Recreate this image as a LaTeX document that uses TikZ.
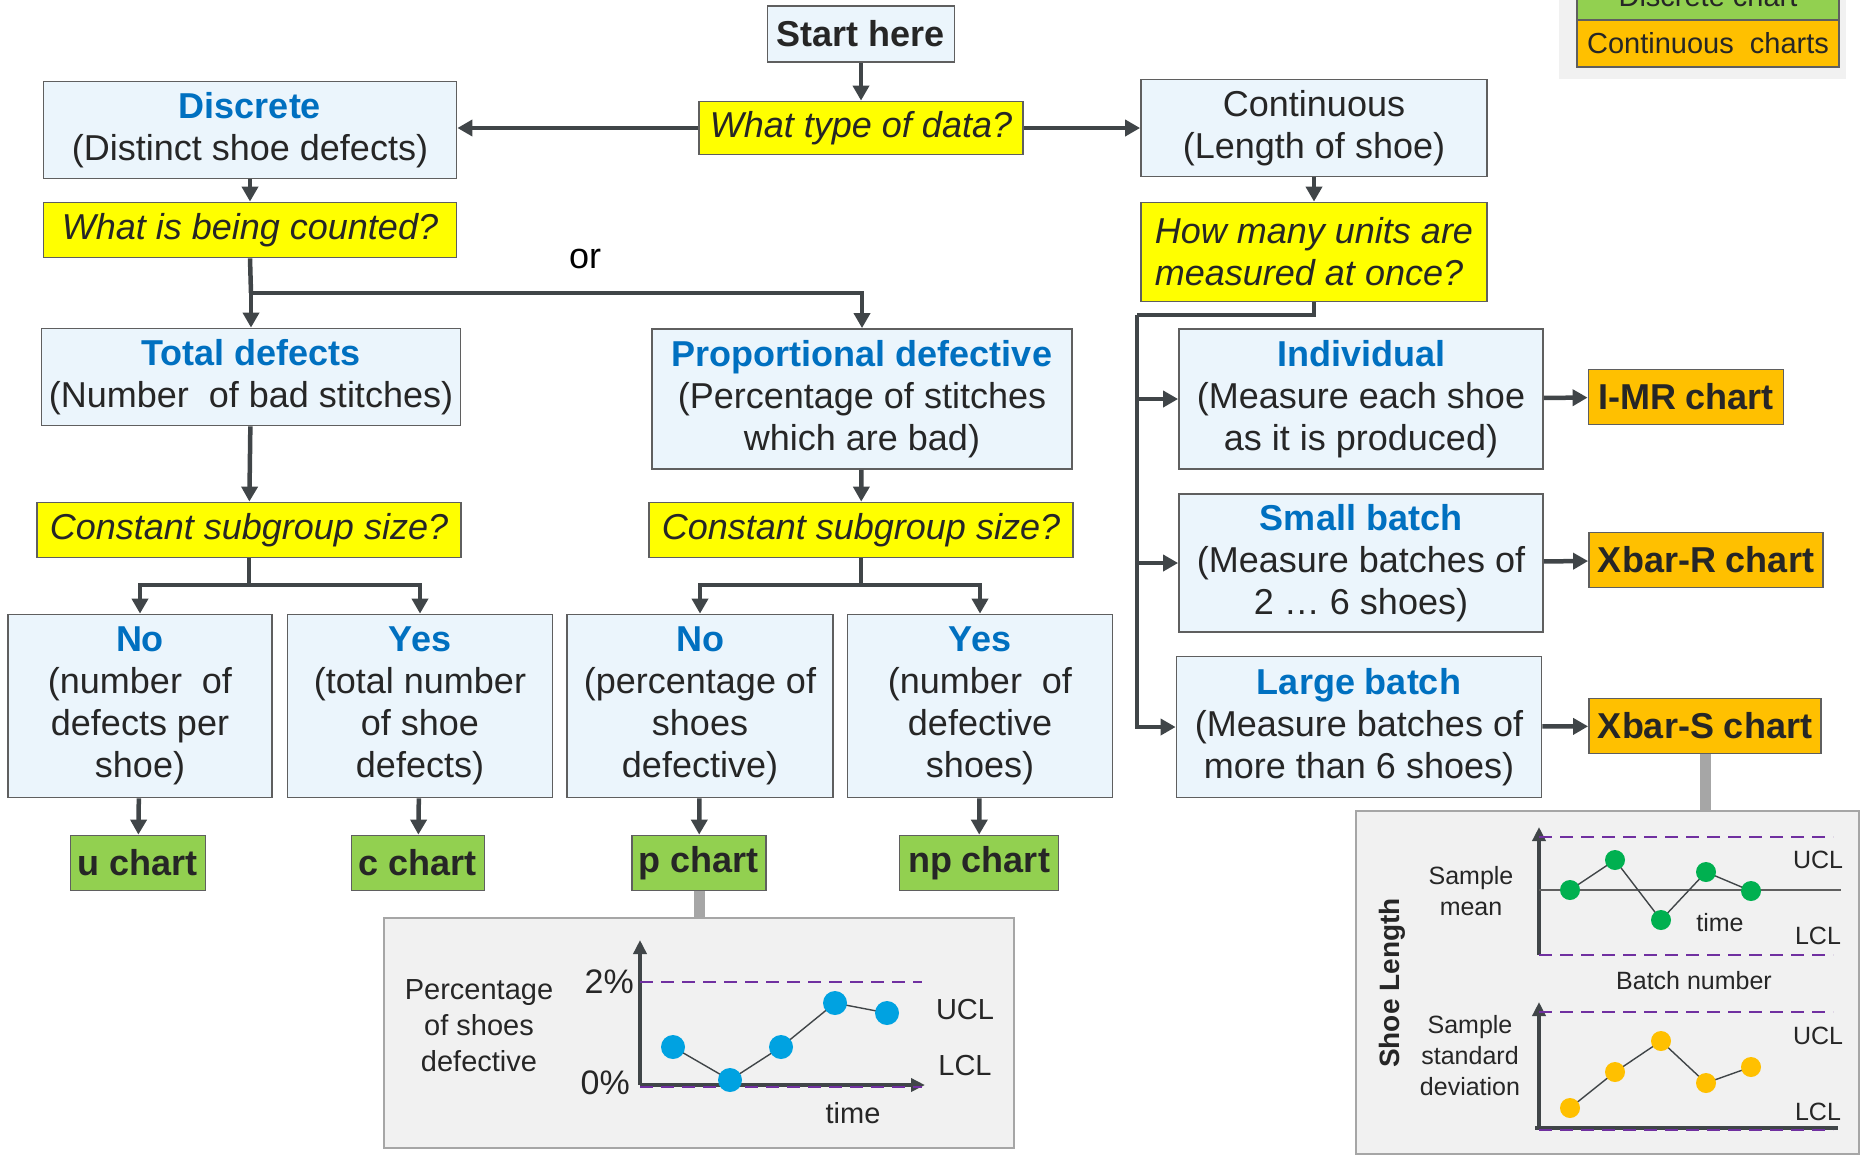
\documentclass[tikz,border=0pt]{standalone}
\usepackage{fontspec}
\setmainfont{Liberation Sans}
\usetikzlibrary{arrows.meta}

\definecolor{boxblue}{HTML}{EBF5FC}
\definecolor{titleblue}{HTML}{0070C0}
\definecolor{qyellow}{HTML}{FFFF00}
\definecolor{discgreen}{HTML}{92D050}
\definecolor{contorange}{HTML}{FFC000}
\definecolor{linegray}{HTML}{404548}
\definecolor{edgegray}{HTML}{5F5F5F}
\definecolor{panelgray}{HTML}{F1F1F1}
\definecolor{paneledge}{HTML}{A6A6A6}
\definecolor{limitpurple}{HTML}{7030A0}
\definecolor{dotblue}{HTML}{00A2E1}
\definecolor{dotgreen}{HTML}{00B050}
\definecolor{textdark}{HTML}{262626}

\newcommand{\boxtitle}[1]{{\bfseries\color{titleblue}#1}}

\tikzset{
  box/.style={draw=edgegray, line width=1.8pt, inner sep=0pt, align=center,
    text=textdark, font=\fontsize{36}{42}\selectfont},
  infobox/.style={box, fill=boxblue},
  question/.style={box, fill=qyellow, font=\fontsize{36}{42}\selectfont\itshape},
  discchart/.style={box, fill=discgreen, font=\fontsize{36}{42}\selectfont\bfseries},
  contchart/.style={box, fill=contorange, font=\fontsize{36}{42}\selectfont\bfseries},
  keybox/.style={box, font=\fontsize{29}{34}\selectfont, minimum width=262pt, minimum height=47pt},
  flow/.style={draw=linegray, line width=4.5pt},
  flowarrow/.style={flow, -{Triangle[length=15pt,width=16pt]}},
  panel/.style={draw=paneledge, line width=2.5pt, fill=panelgray, inner sep=0pt},
  tie/.style={draw=paneledge, line width=11pt},
  chartlabel/.style={inner sep=0pt, align=center, text=textdark, font=\fontsize{29}{36}\selectfont},
  smalllabel/.style={inner sep=0pt, align=center, text=textdark, font=\fontsize{25}{31}\selectfont},
  axisline/.style={draw=linegray, line width=4pt},
  axisarrow/.style={axisline, -{Triangle[length=14pt,width=13pt]}},
  limitline/.style={draw=limitpurple, line width=2.5pt, dash pattern=on 13pt off 8pt},
  trace/.style={draw=linegray, line width=1.4pt},
}

\begin{document}
\begin{tikzpicture}[x=1pt,y=-1pt]
\useasboundingbox (0,0) rectangle (1865,1160);

\fill[panelgray] (1559,0) rectangle (1846,79);
\node[keybox, fill=discgreen] (keydisc) at (1708,-4) {Discrete chart};
\node[keybox, fill=contorange] (keycont) at (1708,43.5) {Continuous\ \ charts};

\node[infobox, font=\fontsize{36}{42}\selectfont\bfseries, minimum width=187pt, minimum height=56pt] (start) at (861,34) {Start here};
\node[question, minimum width=324pt, minimum height=53pt] (qtype) at (861,128) {What type of data?};
\node[infobox, minimum width=413pt, minimum height=97pt] (discrete) at (250,130) {\boxtitle{Discrete}\\(Distinct shoe defects)};
\node[infobox, minimum width=346pt, minimum height=97pt] (contin) at (1314,128) {Continuous\\(Length of shoe)};
\node[question, minimum width=413pt, minimum height=55pt] (qcount) at (250,230) {What is being counted?};
\node[question, align=left, minimum width=346pt, minimum height=99pt] (qunits) at (1314,252) {How many units are\\measured at once?};

\node[infobox, minimum width=419pt, minimum height=97pt] (total) at (251,377) {\boxtitle{Total defects}\\(Number\ \ of bad stitches)};
\node[infobox, minimum width=420pt, minimum height=140pt] (prop) at (862,399) {\boxtitle{Proportional defective}\\(Percentage of stitches\\which are bad)};
\node[question, minimum width=424pt, minimum height=55pt] (qconsta) at (249,530) {Constant subgroup size?};
\node[question, minimum width=424pt, minimum height=55pt] (qconstb) at (861,530) {Constant subgroup size?};

\node[infobox, minimum width=264pt, minimum height=183pt] (noa) at (140,706) {\boxtitle{No}\\(number\ \ of\\defects per\\shoe)};
\node[infobox, minimum width=265pt, minimum height=183pt] (yesa) at (420,706) {\boxtitle{Yes}\\(total number\\of shoe\\defects)};
\node[infobox, minimum width=266pt, minimum height=183pt] (nob) at (700,706) {\boxtitle{No}\\(percentage of\\shoes\\defective)};
\node[infobox, minimum width=265pt, minimum height=183pt] (yesb) at (980,706) {\boxtitle{Yes}\\(number\ \ of\\defective\\shoes)};

\node[discchart, minimum width=135pt, minimum height=55pt] (uch) at (138,863) {u chart};
\node[discchart, minimum width=133pt, minimum height=55pt] (cch) at (418,863) {c chart};
\node[discchart, minimum width=134pt, minimum height=55pt] (pch) at (699,863) {p chart};
\node[discchart, minimum width=159pt, minimum height=55pt] (npch) at (979,863) {np chart};

\node[infobox, minimum width=364pt, minimum height=140pt] (indiv) at (1361,399) {\boxtitle{Individual}\\(Measure each shoe\\as it is produced)};
\node[infobox, minimum width=364pt, minimum height=138pt] (small) at (1361,563) {\boxtitle{Small batch}\\(Measure batches of\\2 … 6 shoes)};
\node[infobox, minimum width=365pt, minimum height=141pt] (large) at (1359,727) {\boxtitle{Large batch}\\(Measure batches of\\more than 6 shoes)};

\node[contchart, minimum width=195pt, minimum height=55pt] (imr) at (1686,397) {I-MR chart};
\node[contchart, minimum width=234pt, minimum height=55pt] (xbr) at (1706,560) {Xbar-R chart};
\node[contchart, minimum width=232pt, minimum height=55pt] (xbs) at (1705,726) {Xbar-S chart};

\node[text=black, font=\fontsize{36}{42}\selectfont] (ortext) at (585,259) {or};

\draw[flowarrow] (start) -- (qtype);
\draw[flowarrow] (qtype.west) -- (qtype.west -| discrete.east);
\draw[flowarrow] (qtype.east) -- (qtype.east -| contin.west);
\draw[flowarrow] (discrete) -- (qcount);
\draw[flowarrow] (contin) -- (qunits);

\coordinate (orsplit) at (251,293);
\draw[flow] (qcount.south) -- (orsplit);
\draw[flowarrow] (orsplit) -- (total.north);
\draw[flowarrow] (orsplit) -| (prop.north);

\coordinate (unitsplit) at (1137,315);
\draw[flow] (qunits.south) |- (unitsplit);
\draw[flowarrow] (unitsplit) |- (indiv.west);
\draw[flowarrow] (unitsplit) |- (small.west);
\draw[flowarrow] (unitsplit) |- (large.west);

\draw[flowarrow] (total) -- (qconsta);
\draw[flowarrow] (prop) -- (qconstb);
\coordinate (splita) at (249,585);
\coordinate (splitb) at (861,585);
\draw[flow] (qconsta.south) -- (splita);
\draw[flowarrow] (splita) -| (noa.north);
\draw[flowarrow] (splita) -| (yesa.north);
\draw[flow] (qconstb.south) -- (splitb);
\draw[flowarrow] (splitb) -| (nob.north);
\draw[flowarrow] (splitb) -| (yesb.north);

\draw[flowarrow] (noa) -- (uch);
\draw[flowarrow] (yesa) -- (cch);
\draw[flowarrow] (nob) -- (pch);
\draw[flowarrow] (yesb) -- (npch);
\draw[flowarrow] (indiv) -- (imr);
\draw[flowarrow] (small) -- (xbr);
\draw[flowarrow] (large) -- (xbs);

\node[panel, minimum width=630pt, minimum height=230pt] (pbox) at (699,1033) {};
\draw[tie] (pch.south) -- (pbox.north);
\node[chartlabel] (pylab) at (479,1026) {Percentage\\of shoes\\defective};
\node[chartlabel, font=\fontsize{34}{40}\selectfont, anchor=east] (ptop) at (634,982) {2\%};
\node[chartlabel, font=\fontsize{34}{40}\selectfont, anchor=east] (pzero) at (630,1083) {0\%};
\node[chartlabel] (pucl) at (965,1009) {UCL};
\node[chartlabel] (plcl) at (965,1065) {LCL};
\node[chartlabel] (ptime) at (853,1113) {time};
\draw[axisarrow] (640,1085) -- (640,940);
\draw[axisarrow] (640,1085) -- (925,1085);
\draw[limitline] (640,982) -- (922,982);
\draw[limitline] (640,1087) -- (922,1087);
\draw[trace] (673,1047) -- (730,1080) -- (781,1047) -- (835,1003) -- (887,1013);
\foreach \px/\py in {673/1047,730/1080,781/1047,835/1003,887/1013}
  \fill[dotblue] (\px,\py) circle (12pt);

\node[panel, minimum width=503pt, minimum height=343pt] (sbox) at (1607.5,982.5) {};
\draw[tie] (xbs.south) -- (xbs.south |- sbox.north);
\node[rotate=90, inner sep=0pt, text=textdark, font=\fontsize{28}{32}\selectfont\bfseries] (slen) at (1392,983) {Shoe Length};
\node[smalllabel] (smean) at (1471,891) {Sample\\mean};
\node[smalllabel] (ssd) at (1470,1056) {Sample\\standard\\deviation};
\node[smalllabel] (sbatch) at (1694,981) {Batch number};
\node[smalllabel] (stime) at (1720,923) {time};
\node[smalllabel] (suclx) at (1818,860) {UCL};
\node[smalllabel] (slclx) at (1818,936) {LCL};
\node[smalllabel] (sucls) at (1818,1036) {UCL};
\node[smalllabel] (slcls) at (1818,1112) {LCL};

\draw[axisarrow] (1539,955) -- (1539,827);
\draw[draw=edgegray, line width=2.5pt] (1539,890) -- (1841,890);
\draw[limitline] (1539,837) -- (1833,837);
\draw[limitline] (1539,955) -- (1833,955);
\draw[trace] (1570,890) -- (1615,860) -- (1661,920) -- (1706,872) -- (1751,891);
\foreach \px/\py in {1570/890,1615/860,1661/920,1706/872,1751/891}
  \fill[dotgreen] (\px,\py) circle (10pt);

\draw[axisarrow] (1539,1129) -- (1539,1002);
\draw[axisline] (1535,1128) -- (1838,1128);
\draw[limitline] (1539,1012) -- (1833,1012);
\draw[limitline] (1539,1130) -- (1833,1130);
\draw[trace] (1570,1108) -- (1615,1072) -- (1661,1041) -- (1706,1083) -- (1751,1067);
\foreach \px/\py in {1570/1108,1615/1072,1661/1041,1706/1083,1751/1067}
  \fill[contorange] (\px,\py) circle (10pt);
\end{tikzpicture}
\end{document}
